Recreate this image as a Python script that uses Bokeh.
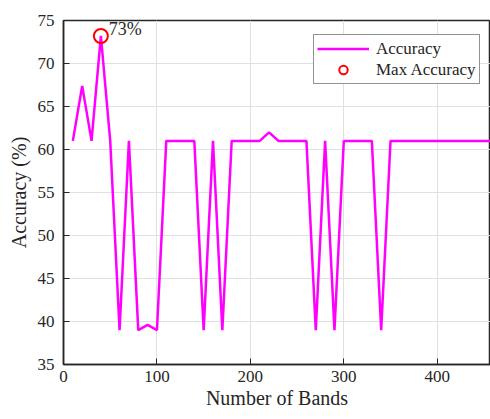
from bokeh.plotting import figure
from bokeh.models import Legend, LegendItem, FixedTicker, Range1d, ColumnDataSource
from bokeh.core.properties import value
from bokeh.embed import file_html
from bokeh.resources import INLINE

bands = [10, 20, 30, 40, 50, 60, 70, 80, 90, 100,
         110, 120, 130, 140, 150, 160, 170, 180, 190, 200,
         210, 220, 230, 240, 250, 260, 270, 280, 290, 300,
         310, 320, 330, 340, 350, 360, 370, 380, 390, 400,
         410, 420, 430, 440, 450, 460]
accuracy = [61, 67.4, 61, 73.2, 61, 39, 61, 39, 39.6, 39,
            61, 61, 61, 61, 39, 61, 39, 61, 61, 61,
            61, 62, 61, 61, 61, 61, 39, 61, 39, 61,
            61, 61, 61, 39, 61, 61, 61, 61, 61, 61,
            61, 61, 61, 61, 61, 61]
max_band = [40]
max_acc = [73.2]
max_label = ["73%"]
x_ticks = [0, 100, 200, 300, 400]
y_ticks = [35, 40, 45, 50, 55, 60, 65, 70, 75]

FONT = "Liberation Serif"
DARK = "#262626"

p = figure(width=490, height=419, output_backend="svg", toolbar_location=None,
           x_range=Range1d(0, 457), y_range=Range1d(35, 75),
           min_border_left=63, min_border_right=0, min_border_top=20, min_border_bottom=55)

p.background_fill_color = "white"
p.outline_line_color = DARK
p.outline_line_width = 1.5

for ax in (p.xaxis[0], p.yaxis[0]):
    ax.axis_line_color = DARK
    ax.axis_line_width = 1.5
    ax.major_tick_in = 6
    ax.major_tick_out = 0
    ax.major_tick_line_color = DARK
    ax.minor_tick_line_color = None
    ax.major_label_text_font = FONT
    ax.major_label_text_font_size = "17px"
    ax.major_label_text_color = DARK
    ax.axis_label_text_font = FONT
    ax.axis_label_text_font_size = "20px"
    ax.axis_label_text_font_style = "normal"
    ax.axis_label_text_color = DARK

p.xaxis.ticker = FixedTicker(ticks=x_ticks)
p.yaxis.ticker = FixedTicker(ticks=y_ticks)
p.xaxis.axis_label = "Number of Bands"
p.yaxis.axis_label = "Accuracy (%)"
p.xaxis.major_label_standoff = 6
p.xaxis.axis_label_standoff = 2
p.yaxis.major_label_standoff = 9
p.yaxis.axis_label_standoff = 5

p.xgrid.grid_line_color = "#e0e0e0"
p.ygrid.grid_line_color = "#e0e0e0"
p.xgrid.ticker = FixedTicker(ticks=x_ticks)
p.ygrid.ticker = FixedTicker(ticks=y_ticks)

src = ColumnDataSource(dict(x=bands, y=accuracy))
line_r = p.line("x", "y", source=src, line_color="#ff00ff", line_width=2.5)

msrc = ColumnDataSource(dict(x=max_band, y=max_acc, t=max_label))
max_r = p.scatter("x", "y", source=msrc, marker="circle", size=14,
                  fill_color=None, line_color="#ff0000", line_width=2)
p.text(x="x", y="y", text="t", source=msrc, x_offset=8, y_offset=3,
       text_font=value(FONT), text_font_size="18px", text_color=DARK,
       text_baseline="bottom", text_align="left")

legend = Legend(items=[LegendItem(label="Accuracy", renderers=[line_r]),
                       LegendItem(label="Max Accuracy", renderers=[max_r])],
                location=(250, 280))
legend.label_text_font = FONT
legend.label_text_font_size = "17px"
legend.label_text_color = DARK
legend.glyph_width = 52
legend.glyph_height = 21
legend.label_height = 20
legend.label_standoff = 7
legend.spacing = 0
legend.padding = 3
legend.margin = 0
legend.border_line_color = DARK
legend.border_line_width = 1.2
legend.background_fill_color = "white"
legend.background_fill_alpha = 1
p.add_layout(legend)

open("out.html", "w").write(file_html(p, INLINE))
